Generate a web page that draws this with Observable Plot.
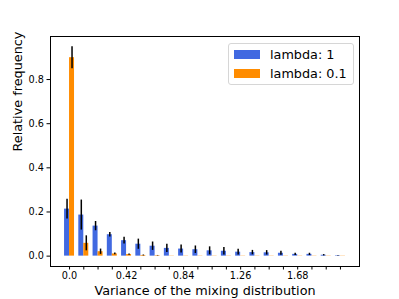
<!DOCTYPE html>
<html>
<head>
<meta charset="utf-8">
<script src="https://cdn.jsdelivr.net/npm/d3@7"></script>
<script src="https://cdn.jsdelivr.net/npm/@observablehq/plot@0.6"></script>
<style>
  body { margin: 0; background: #fff; }
  #wrap { position: relative; width: 399px; height: 299px; font-family: "DejaVu Sans", sans-serif; }
  .legend { position: absolute; left: 228px; top: 43px; width: 124px; height: 40px; border: 1px solid #d6d6d6; border-radius: 3px; background: rgba(255,255,255,0.85); }
  .legend .row { position: absolute; left: 5px; height: 14px; display: flex; align-items: center; }
  .legend .sw { width: 26px; height: 9px; margin-right: 10px; }
  .legend .lab { font-size: 12.8px; color: #000; white-space: nowrap; }
</style>
</head>
<body>
<div id="wrap"></div>
<script>
// Series names and colours
const seriesNames = ["lambda: 1", "lambda: 0.1"];
const seriesColors = ["#4169E1", "#FF8C00"];

// Bin indices (20 bins) and visible tick labels (every 4th bin)
const binIndex = [0,1,2,3,4,5,6,7,8,9,10,11,12,13,14,15,16,17,18,19];
const tickLabels = ["0.0", "0.42", "0.84", "1.26", "1.68"];
const labelEvery = 4;

// Relative frequency, lambda = 1
const blueValues = [0.213, 0.186, 0.136, 0.097, 0.070, 0.054, 0.045, 0.035, 0.032, 0.029,
                    0.024, 0.022, 0.018, 0.016, 0.015, 0.013, 0.008, 0.008, 0.004, 0.002];
const blueErrors = [0.045, 0.068, 0.021, 0.010, 0.015, 0.023, 0.019, 0.019, 0.018, 0.017,
                    0.018, 0.017, 0.013, 0.010, 0.010, 0.009, 0.005, 0.005, 0.003, 0.001];
// Relative frequency, lambda = 0.1
const orangeValues = [0.899, 0.058, 0.020, 0.010, 0.007, 0.003, 0.002, 0.001, 0.001, 0.001,
                      0.001, 0.001, 0.001, 0.001, 0.001, 0.001, 0.001, 0.001, 0.001, 0.001];
const orangeErrors = [0.050, 0.034, 0.012, 0.004, 0.003, 0.002, 0.001, 0, 0, 0,
                      0, 0, 0, 0, 0, 0, 0, 0, 0, 0];

const yTicks = [0, 0.2, 0.4, 0.6, 0.8];

const rows = binIndex.map((i, k) => ({
  i, blue: blueValues[k], blueErr: blueErrors[k], orange: orangeValues[k], orangeErr: orangeErrors[k]
}));

const W = 0.35;

const chart = Plot.plot({
  width: 399,
  height: 299,
  marginLeft: 50,
  marginRight: 40,
  marginTop: 36,
  marginBottom: 33,
  style: { fontFamily: "DejaVu Sans, sans-serif", background: "white", color: "black" },
  x: { domain: [-1.335, 20.335] },
  y: { domain: [-0.047, 0.995] },
  marks: [
    Plot.rect(rows, { x1: d => d.i - W, x2: d => d.i, y1: 0, y2: "blue", fill: seriesColors[0] }),
    Plot.rect(rows, { x1: d => d.i, x2: d => d.i + W, y1: 0, y2: "orange", fill: seriesColors[1] }),
    Plot.ruleX(rows.filter(d => d.blueErr > 0), {
      x: d => d.i - W / 2, y1: d => d.blue - d.blueErr, y2: d => d.blue + d.blueErr,
      stroke: "black", strokeWidth: 1.5
    }),
    Plot.ruleX(rows.filter(d => d.orangeErr > 0), {
      x: d => d.i + W / 2, y1: d => d.orange - d.orangeErr, y2: d => d.orange + d.orangeErr,
      stroke: "black", strokeWidth: 1.5
    }),
    Plot.axisX({
      ticks: binIndex,
      tickFormat: i => (i % labelEvery === 0 ? tickLabels[i / labelEvery] : ""),
      tickSize: 3.5, tickPadding: 2, fontSize: 9.7, label: null, stroke: "black"
    }),
    Plot.axisY({
      ticks: yTicks,
      tickFormat: d3.format(".1f"),
      tickSize: 3.5, tickPadding: 3, fontSize: 9.7, label: null, stroke: "black"
    }),
    Plot.frame({ stroke: "black", strokeWidth: 1 }),
    Plot.text(["Variance of the mixing distribution"], {
      frameAnchor: "bottom", lineAnchor: "middle", dy: 24, fontSize: 12.8, fill: "black"
    }),
    Plot.text(["Relative frequency"], {
      frameAnchor: "left", lineAnchor: "middle", dx: -33, rotate: -90, fontSize: 12.8, fill: "black"
    })
  ]
});

const wrap = document.getElementById("wrap");
wrap.appendChild(chart);

const legend = document.createElement("div");
legend.className = "legend";
const rowTops = [3, 22];
seriesNames.forEach((name, k) => {
  const r = document.createElement("div");
  r.className = "row";
  r.style.top = rowTops[k] + "px";
  const sw = document.createElement("div");
  sw.className = "sw";
  sw.style.background = seriesColors[k];
  const lab = document.createElement("span");
  lab.className = "lab";
  lab.textContent = name;
  r.appendChild(sw);
  r.appendChild(lab);
  legend.appendChild(r);
});
wrap.appendChild(legend);
</script>
</body>
</html>
